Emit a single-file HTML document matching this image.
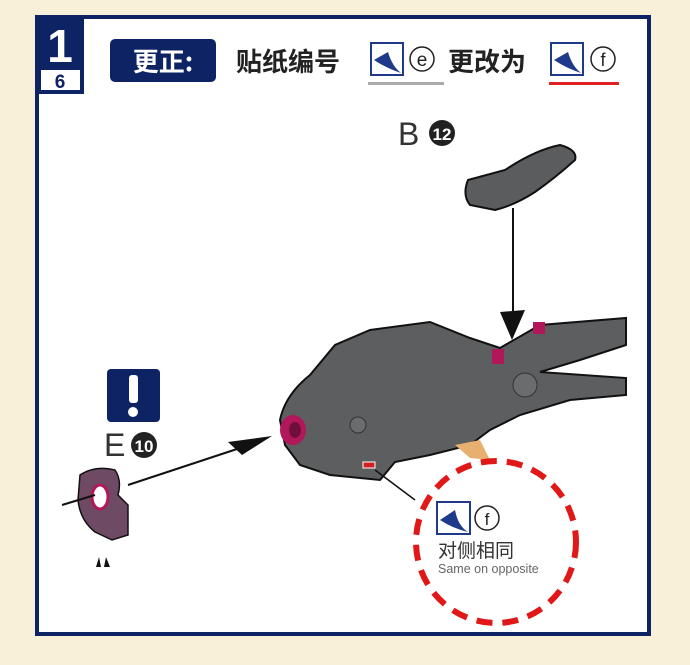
<!DOCTYPE html>
<html><head><meta charset="utf-8"><style>
html,body{margin:0;padding:0;width:690px;height:665px;background:#f8f0d8;overflow:hidden;font-family:"Liberation Sans","Noto Sans CJK SC",sans-serif}
</style></head><body>
<svg width="690" height="665" viewBox="0 0 690 665" xmlns="http://www.w3.org/2000/svg" style="position:absolute;left:0;top:0">
<rect x="0" y="0" width="690" height="665" fill="#f8f0d8"/>
<rect x="37" y="17" width="612" height="617" fill="#fff" stroke="#0e2364" stroke-width="4"/>
<rect x="37" y="17" width="47" height="77" fill="#0e2364"/>
<text x="60" y="62" font-size="46" font-weight="bold" fill="#fff" text-anchor="middle">1</text>
<rect x="41" y="70" width="39" height="20" fill="#fff"/>
<text x="60" y="88" font-size="19" font-weight="bold" fill="#0e2364" text-anchor="middle">6</text>
<rect x="110" y="39" width="106" height="43" rx="5" fill="#0e2364"/>
<text x="163" y="71" font-size="26" font-weight="bold" fill="#fff" text-anchor="middle" font-family="Noto Sans CJK SC,sans-serif">更正:</text>
<text x="236" y="71" font-size="26" font-weight="bold" fill="#222" font-family="Noto Sans CJK SC,sans-serif">贴纸编号</text>
<rect x="371" y="43" width="32" height="32" fill="#fff" stroke="#1f3a8a" stroke-width="2"/>
<path d="M374,60 L388,52 Q392,66 401,73 Q386,68 374,60Z" fill="#1f3a8a"/>
<circle cx="422" cy="59" r="12" fill="none" stroke="#222" stroke-width="1.5"/>
<text x="422" y="66" font-size="19" fill="#222" text-anchor="middle">e</text>
<rect x="368" y="82" width="76" height="3" fill="#aaa"/>
<text x="448" y="71" font-size="26" font-weight="bold" fill="#222" font-family="Noto Sans CJK SC,sans-serif">更改为</text>
<rect x="551" y="43" width="32" height="32" fill="#fff" stroke="#1f3a8a" stroke-width="2"/>
<path d="M554,60 L568,52 Q572,66 581,73 Q566,68 554,60Z" fill="#1f3a8a"/>
<circle cx="603" cy="59" r="12" fill="none" stroke="#222" stroke-width="1.5"/>
<text x="603" y="66" font-size="18" fill="#222" text-anchor="middle">f</text>
<rect x="549" y="82" width="70" height="3" fill="#e02020"/>
<text x="398" y="145" font-size="32" fill="#333">B</text>
<circle cx="442" cy="133" r="13" fill="#222"/>
<text x="442" y="140" font-size="17" font-weight="bold" fill="#fff" text-anchor="middle">12</text>
<path d="M468,180 L505,170 Q535,150 560,145 Q578,150 575,160 Q555,178 535,192 Q515,205 495,210 L470,205 Q462,195 468,180Z" fill="#5a5c5e" stroke="#111" stroke-width="2"/>
<line x1="513" y1="208" x2="513" y2="318" stroke="#111" stroke-width="2"/>
<path d="M500,312 L525,310 L512,340Z" fill="#111"/>
<path d="M280,420 Q285,395 310,375 L335,345 L370,330 L430,322 L470,338 L500,348 L540,325 L626,318 L626,345 L580,360 L540,372 L626,378 L626,395 L570,400 L520,415 L490,430 L470,445 L430,455 L395,462 L380,480 L330,475 L300,465 L285,445Z" fill="#5c5e60" stroke="#111" stroke-width="2"/>
<rect x="533" y="322" width="12" height="12" fill="#b0185a"/>
<rect x="492" y="349" width="12" height="15" fill="#b0185a"/>
<ellipse cx="293" cy="430" rx="13" ry="15" fill="#b0185a"/>
<ellipse cx="295" cy="430" rx="6" ry="8" fill="#70103a"/>
<path d="M455,445 L480,440 L490,460 L470,458Z" fill="#e8b070"/>
<circle cx="525" cy="385" r="12" fill="#6a6c6e" stroke="#333"/>
<circle cx="358" cy="425" r="8" fill="#6a6c6e" stroke="#333"/>
<rect x="363" y="462" width="12" height="6" fill="#d02020" stroke="#fff"/>
<line x1="375" y1="470" x2="415" y2="500" stroke="#111" stroke-width="1.5"/>
<rect x="107" y="369" width="53" height="53" rx="4" fill="#0e2364"/>
<rect x="129" y="375" width="9" height="28" rx="3" fill="#fff"/>
<circle cx="133" cy="412" r="5" fill="#fff"/>
<text x="104" y="456" font-size="32" fill="#333">E</text>
<circle cx="144" cy="445" r="13" fill="#222"/>
<text x="144" y="452" font-size="17" font-weight="bold" fill="#fff" text-anchor="middle">10</text>
<path d="M80,475 Q95,465 115,470 Q122,480 118,495 L128,505 L128,535 L112,540 L95,532 Q80,520 78,500Z" fill="#6e4a64" stroke="#111" stroke-width="1.5"/>
<ellipse cx="100" cy="497" rx="8" ry="12" fill="#fff" stroke="#b0185a" stroke-width="3"/>
<line x1="62" y1="505" x2="95" y2="495" stroke="#111" stroke-width="2"/>
<line x1="128" y1="485" x2="240" y2="448" stroke="#111" stroke-width="2"/>
<path d="M228,442 L272,436 L242,455Z" fill="#111"/>
<path d="M96,567 L99,557 L101,567Z M104,567 L106,557 L110,567Z" fill="#111"/>
<ellipse cx="496" cy="542" rx="80" ry="81" fill="none" stroke="#e01818" stroke-width="6" stroke-dasharray="16 10"/>
<rect x="437" y="502" width="33" height="32" fill="#fff" stroke="#1f3a8a" stroke-width="2"/>
<path d="M440,520 L455,510 Q458,526 468,532 Q452,528 440,520Z" fill="#1f3a8a"/>
<circle cx="487" cy="518" r="12" fill="none" stroke="#222" stroke-width="1.5"/>
<text x="487" y="525" font-size="17" fill="#222" text-anchor="middle">f</text>
<text x="438" y="557" font-size="19" fill="#333" font-family="Noto Sans CJK SC,sans-serif">对侧相同</text>
<text x="438" y="573" font-size="12.5" fill="#666">Same on opposite</text>
</svg>
</body></html>
